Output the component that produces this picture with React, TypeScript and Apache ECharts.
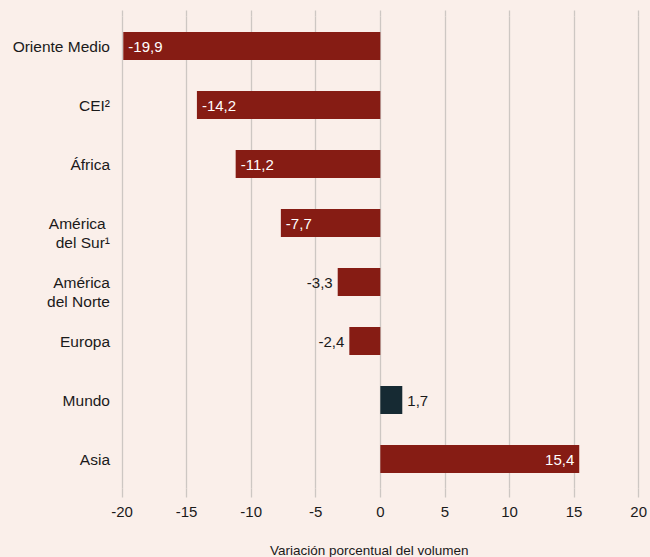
import React, { useEffect, useRef } from "react";
import * as echarts from "echarts";

const categories = [
  "Oriente Medio",
  "CEI²",
  "África",
  "\nAmérica \ndel Sur¹",
  "\nAmérica\ndel Norte",
  "Europa",
  "Mundo",
  "Asia",
];
const values = [-19.9, -14.2, -11.2, -7.7, -3.3, -2.4, 1.7, 15.4];
const highlight = "Mundo";
const axisTitle = "Variación porcentual del volumen";
const xMin = -20;
const xMax = 20;
const xStep = 5;

const RED = "#861c14";
const DARK = "#162a33";
const GRID = "#cdc7c3";
const TEXT = "#1a1a1a";
const FONT = "'Liberation Sans', Arial, Helvetica, sans-serif";

function fmt(v: number) {
  return v.toFixed(1).replace(".", ",");
}

export default function App() {
  const ref = useRef<HTMLDivElement>(null);
  useEffect(() => {
    if (!ref.current) return;
    const chart = echarts.init(ref.current, undefined, { renderer: "svg" });
    const data = values.map((v, i) => {
      const isHi = categories[i] === highlight;
      const inside = Math.abs(v) > 5;
      let position: any;
      if (inside) position = v < 0 ? "insideLeft" : "insideRight";
      else position = v < 0 ? "left" : "right";
      return {
        value: v,
        itemStyle: { color: isHi ? DARK : RED },
        label: {
          show: true,
          position,
          distance: 5,
          color: inside ? "#ffffff" : TEXT,
          fontSize: 15,
          fontFamily: FONT,
          formatter: () => fmt(v),
        },
      };
    });
    chart.setOption({
      animation: false,
      backgroundColor: "#faefea",
      textStyle: { fontFamily: FONT },
      grid: { left: 122, right: 10.5, top: 16.5, bottom: 68.5, containLabel: false },
      xAxis: [
        {
          type: "value",
          min: xMin,
          max: xMax,
          interval: xStep,
          position: "bottom",
          axisLine: { show: false },
          axisTick: { show: true, length: 9, lineStyle: { color: GRID, width: 1.3 } },
          splitLine: { show: true, lineStyle: { color: GRID, width: 1.3 } },
          axisLabel: { color: TEXT, fontSize: 15, margin: 15, fontFamily: FONT },
        },
        {
          type: "value",
          min: xMin,
          max: xMax,
          interval: xStep,
          position: "top",
          axisLine: { show: false },
          axisTick: { show: true, length: 6, lineStyle: { color: GRID, width: 1.3 } },
          splitLine: { show: false },
          axisLabel: { show: false },
        },
      ],
      yAxis: {
        type: "category",
        inverse: true,
        data: categories,
        axisLine: { show: false },
        axisTick: { show: false },
        axisLabel: {
          color: TEXT,
          fontSize: 15.5,
          lineHeight: 19,
          margin: 12,
          fontFamily: FONT,
          align: "right",
          padding: [0, 0, 2, 0],
        },
      },
      series: [
        {
          type: "bar",
          xAxisIndex: 0,
          data,
          barWidth: 28,
        },
      ],
      graphic: [
        {
          type: "text",
          left: 270,
          top: 543,
          style: {
            text: axisTitle,
            fill: TEXT,
            fontSize: 13.5,
            fontFamily: FONT,
          },
        },
      ],
    });
    return () => chart.dispose();
  }, []);
  return (
    <div
      ref={ref}
      style={{ position: "fixed", left: 0, top: 0, width: 650, height: 557 }}
    />
  );
}
